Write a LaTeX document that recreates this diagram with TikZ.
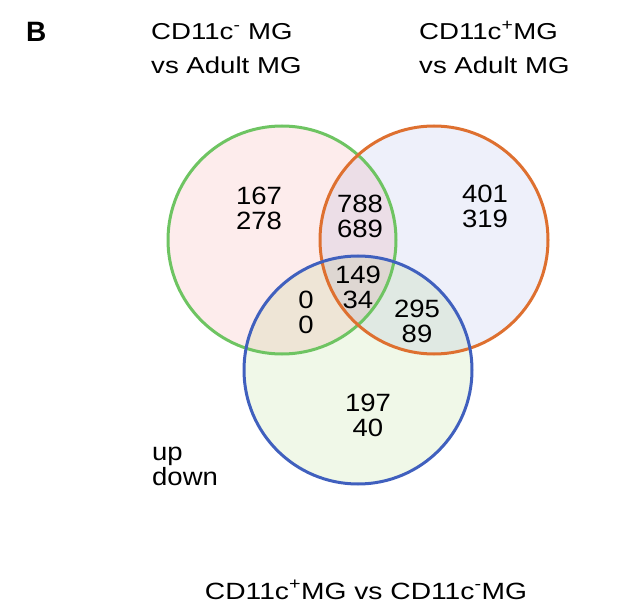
\documentclass[tikz,border=0pt]{standalone}
\usepackage{fontspec}
\setmainfont{Liberation Sans}
\newfontfamily\ttlfont[FakeStretch=1.2]{Liberation Sans}
\newfontfamily\numfont[FakeStretch=1.1]{Liberation Sans}
\definecolor{cgreen}{RGB}{110,196,98}
\definecolor{corange}{RGB}{222,112,48}
\definecolor{cblue}{RGB}{64,96,190}
\definecolor{fpink}{RGB}{253,236,236}
\definecolor{flav}{RGB}{238,240,250}
\definecolor{fgreen}{RGB}{240,248,232}
\begin{document}
\begin{tikzpicture}[x=1pt,y=-1pt,
  setc/.style={circle, minimum size=228pt, inner sep=0pt, line width=3pt},
  num/.style={align=center, font=\numfont\fontsize{25}{25}\selectfont, inner sep=0pt},
  ttl/.style={align=left, font=\ttlfont\fontsize{23}{34}\selectfont, inner sep=0pt, anchor=base west}]
\useasboundingbox (0,0) rectangle (640,612);
\begin{scope}[blend group=multiply]
  \fill[fpink] (282,240) circle (114);
  \fill[flav] (434,240) circle (114);
  \fill[fgreen] (358,370) circle (114);
\end{scope}
\node[setc, draw=cgreen] (g) at (282,240) {};
\node[setc, draw=corange] (o) at (434,240) {};
\node[setc, draw=cblue] (b) at (358,370) {};
\node[num] (n1) at (259,208) {167\\278};
\node[num] (n2) at (360,216) {788\\689};
\node[num] (n3) at (485,206) {401\\319};
\node[num] (n4) at (358,287) {149\\34};
\node[num] (n5) at (306,312) {0\\0};
\node[num] (n6) at (417,321) {295\\89};
\node[num] (n7) at (368,415) {197\\40};
\node[num, align=left, anchor=base west, font=\numfont\fontsize{25}{23}\selectfont] (ud) at (152,485) {up\\down};
\node[font=\fontsize{28}{28}\selectfont\bfseries, inner sep=0pt, anchor=base west] (lb) at (26,42) {B};
\node[ttl] (t1) at (151,74) {CD11c\textsuperscript{-} MG\\vs Adult MG};
\node[ttl] (t2) at (419,74) {CD11c\textsuperscript{+}MG\\vs Adult MG};
\node[ttl, font=\ttlfont\fontsize{23.5}{30}\selectfont, anchor=base] (t3) at (366,599) {CD11c\textsuperscript{+}MG vs CD11c\textsuperscript{-}MG};
\end{tikzpicture}
\end{document}
